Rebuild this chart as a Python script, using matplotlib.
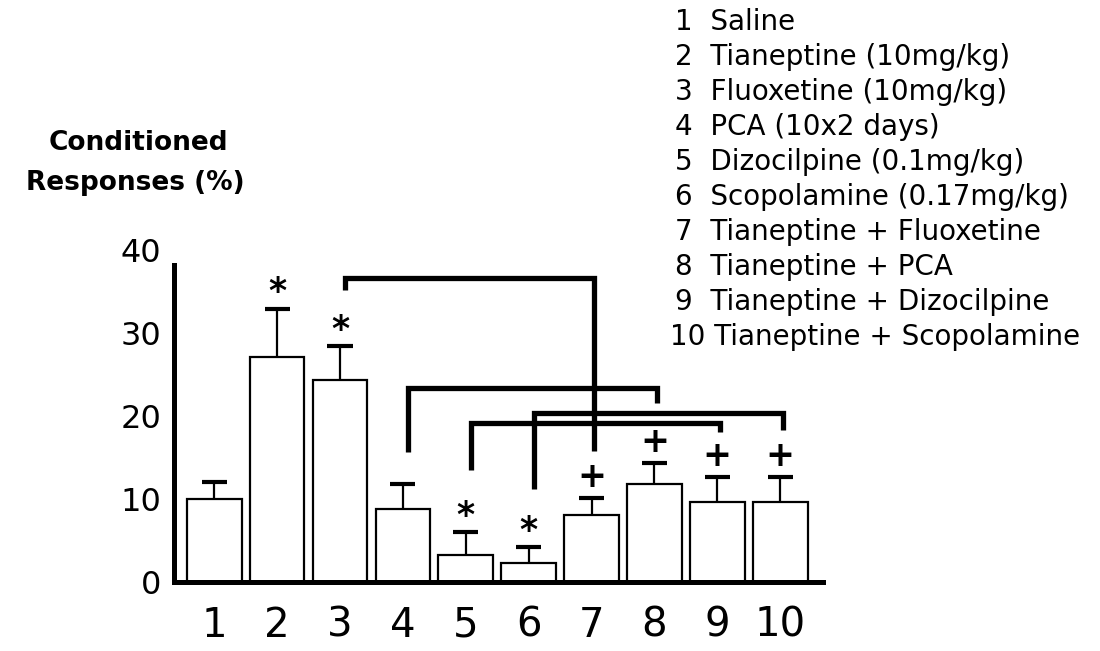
import numpy as np
import matplotlib
matplotlib.use('Agg')
import matplotlib.pyplot as plt

plt.rcParams.update({'font.family': 'DejaVu Sans'})

# ── Data ──
groups = ['1', '2', '3', '4', '5', '6', '7', '8', '9', '10']
means = [10.0, 27.1, 24.3, 8.8, 3.25, 2.3, 8.1, 11.8, 9.6, 9.6]
sems = [2.0, 5.8, 4.1, 3.0, 2.75, 1.9, 2.0, 2.5, 3.0, 3.0]
marks = ['', '*', '*', '', '*', '*', '+', '+', '+', '+']
legend_lines = ['1  Saline', '2  Tianeptine (10mg/kg)', '3  Fluoxetine (10mg/kg)',
                '4  PCA (10x2 days)', '5  Dizocilpine (0.1mg/kg)',
                '6  Scopolamine (0.17mg/kg)', '7  Tianeptine + Fluoxetine',
                '8  Tianeptine + PCA', '9  Tianeptine + Dizocilpine',
                '10 Tianeptine + Scopolamine']
# brackets: (left group idx, right group idx, bar height, left leg bottom, right leg bottom)
brackets = [(2, 6, 36.6, 35.2, 15.8),
            (3, 7, 23.4, 15.7, 21.6),
            (4, 8, 19.2, 13.5, 18.1),
            (5, 9, 20.4, 11.2, 18.3)]

fig = plt.figure(figsize=(11, 6.51), dpi=100)
ax = fig.add_axes([174/1100, 1-582/651, (823-174)/1100, (582-250)/651])

x = np.arange(len(groups))
means = np.array(means)
tops = means + np.array(sems)
ax.bar(x, means, width=0.87, color='white', edgecolor='black', linewidth=1.6, zorder=2)
# upper-only error bars
ax.vlines(x, means, tops, color='black', lw=1.6, zorder=3)
ax.hlines(tops, x - 0.2, x + 0.2, color='black', lw=3, zorder=3)

for xi, t, mk in zip(x, tops, marks):
    if mk:
        off = 2.0 if mk == '*' else 2.6
        ax.text(xi, t + off, mk, ha='center', va='center', fontsize=25,
                fontweight='bold', zorder=4)

for l, r, h, lb, rb in brackets:
    xl, xr = l + 0.08, r + 0.04
    ax.plot([xl, xl, xr, xr], [lb, h, h, rb], color='black', lw=3.8,
            solid_joinstyle='miter', solid_capstyle='butt', zorder=5)

ax.set_xlim(-0.64, 9.68)
ax.set_ylim(0, 40)
ax.set_yticks([0, 10, 20, 30, 40])
ax.set_xticks(x)
ax.set_xticklabels(groups, fontsize=29)
ax.tick_params(axis='y', length=0, labelsize=23, pad=9)
ax.tick_params(axis='x', length=0, pad=17)
for sp in ['top', 'right']:
    ax.spines[sp].set_visible(False)
ax.spines['left'].set_linewidth(3.6)
ax.spines['bottom'].set_linewidth(3.6)
ax.spines['left'].set_bounds(0, 38.2)

fig.text(138/1100, 1-143/651, 'Conditioned', ha='center', va='center',
         fontsize=19, fontweight='bold')
fig.text(135/1100, 1-183/651, 'Responses (%)', ha='center', va='center',
         fontsize=19, fontweight='bold')

for i, line in enumerate(legend_lines):
    xpos = 670 if line.startswith('10') else 675
    fig.text(xpos/1100, 1-(22 + 35*i)/651, line, ha='left', va='center', fontsize=20)

fig.savefig('out.png', dpi=100, facecolor='white')
